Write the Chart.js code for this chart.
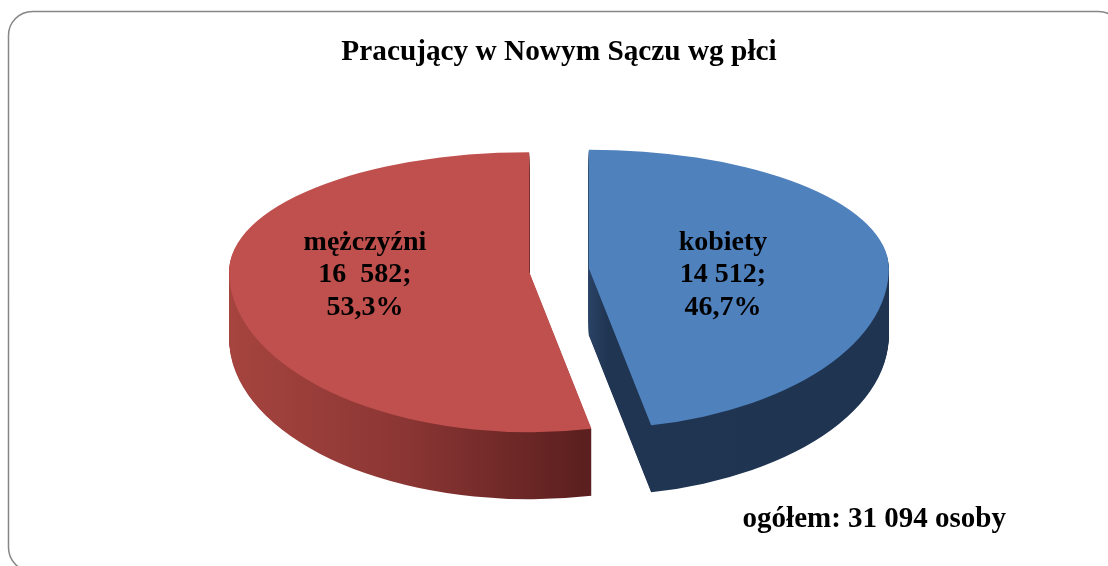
<!DOCTYPE html>
<html>
<head>
<meta charset="utf-8">
<title>Pracujący w Nowym Sączu wg płci</title>
<script src="https://cdn.jsdelivr.net/npm/chart.js@4.4.1/dist/chart.umd.min.js"></script>
<style>
  html, body { margin: 0; padding: 0; background: #fff; }
  #wrap { width: 1108px; height: 566px; }
</style>
</head>
<body>
<div id="wrap"><canvas id="myChart" width="1108" height="566"></canvas></div>
<script>
// dane z wykresu
var categories = ['kobiety', 'mężczyźni'];
var values = [14512, 16582];
var valueLabels = ['14 512', '16  582'];
var titleText = 'Pracujący w Nowym Sączu wg płci';

// wyglad
var sliceColors = ['#4F81BD', '#C0504D'];
var sideStops = [
  [[0, '#1F3350'], [0.5, '#2A4265'], [0.53, '#203552'], [1, '#1F3451']],
  [[0, '#A6443F'], [0.29, '#8B3634'], [0.6, '#5A1F1E'], [1, '#5A1F1E']]
];
var serif = '"Liberation Serif", "Times New Roman", serif';
var pieRadius = 300;
var explode = 30;
var kBack = 0.397;
var kFront = 0.535;
var sideDepth = 67;
var labelRadius = 0.5;
var labelShiftX = -15;
var labelShiftY = 5;
var labelLineHeight = 32.5;


function formatNumber(n) {
  return String(n).replace(/\B(?=(\d{3})+(?!\d))/g, ' ');
}


function sideGradient(ctx, arc, i) {
  var r = arc.outerRadius;
  var g = ctx.createLinearGradient(arc.x - r, 0, arc.x + r, 0);
  sideStops[i].forEach(function(st) {
    g.addColorStop(st[0], st[1]);
  });
  return g;
}


// rysuje wycinki w "pochylonej" perspektywie: tylna polowa splaszczona mocniej niz przednia
function drawSlices(chart, meta, dy, side) {
  var ctx = chart.ctx;
  meta.data.forEach(function(arc, i) {
    var mid = (arc.startAngle + arc.endAngle) / 2;
    var cy = Math.round(arc.y);
    var el = arc;
    if (side) {
      el = Object.create(arc);
      el.options = Object.assign({}, arc.options, {
        backgroundColor: sideGradient(ctx, arc, i),
        borderWidth: 0
      });
    }
    [kBack, kFront].forEach(function(k, h) {
      ctx.save();
      ctx.beginPath();
      if (h === 0) {
        ctx.rect(0, 0, chart.width, cy + dy);
      } else {
        ctx.rect(0, cy + dy, chart.width, chart.height);
      }
      ctx.clip();
      ctx.translate(0, cy + dy);
      ctx.scale(1, k);
      ctx.translate(Math.cos(mid) * explode, Math.sin(mid) * explode - cy);
      el.draw(ctx);
      ctx.restore();
    });
  });
}


function drawFrame(chart) {
  var ctx = chart.ctx;
  ctx.save();
  ctx.fillStyle = '#fff';
  ctx.fillRect(0, 0, chart.width, chart.height);
  ctx.strokeStyle = '#868686';
  ctx.lineWidth = 1.5;
  ctx.beginPath();
  ctx.roundRect(8.5, 11.5, 1114, 560, 24);
  ctx.stroke();
  ctx.restore();
}


function drawLabels(chart) {
  var ctx = chart.ctx;
  var meta = chart.getDatasetMeta(0);
  var total = meta.total;
  ctx.save();
  ctx.font = 'bold 28px ' + serif;
  ctx.fillStyle = '#000';
  ctx.textAlign = 'center';
  ctx.textBaseline = 'middle';
  meta.data.forEach(function(arc, i) {
    var mid = (arc.startAngle + arc.endAngle) / 2;
    var r = arc.outerRadius * labelRadius + explode;
    var x = arc.x + Math.cos(mid) * r + labelShiftX;
    var y = Math.round(arc.y) + labelShiftY;
    var pct = (values[i] / total * 100).toFixed(1).replace('.', ',') + '%';
    var lines = [categories[i], valueLabels[i] + ';', pct];
    lines.forEach(function(t, j) {
      ctx.fillText(t, x, y + (j - 1) * labelLineHeight);
    });
  });

  // suma
  ctx.font = 'bold 29px ' + serif;
  ctx.textAlign = 'right';
  ctx.textBaseline = 'alphabetic';
  ctx.fillText('ogółem: ' + formatNumber(total) + ' osoby', chart.width - 102, 527);
  ctx.restore();
}


var pie3d = {
  id: 'pie3d',
  beforeDraw: function(chart) {
    drawFrame(chart);
  },
  beforeDatasetsDraw: function(chart) {
    var meta = chart.getDatasetMeta(0);
    for (var s = sideDepth; s > 0; s--) {
      drawSlices(chart, meta, s, true);
    }
    drawSlices(chart, meta, 0, false);
    return false;
  },
  afterDraw: function(chart) {
    drawLabels(chart);
  }
};


function getChart() {
  var ctx = document.getElementById('myChart').getContext('2d');
  var chart = new Chart(ctx, {
    type: 'pie',
    data: {
      labels: categories,
      datasets: [{
        data: values,
        backgroundColor: sliceColors,
        borderWidth: 0,
        radius: pieRadius
      }]
    },
    options: {
      responsive: false,
      animation: false,
      events: [],
      layout: {
        padding: { left: 10, right: 0, top: 0, bottom: 96 }
      },
      plugins: {
        legend: { display: false },
        tooltip: { enabled: false },
        title: {
          display: true,
          text: titleText,
          color: '#000',
          font: { family: serif, size: 29.3, weight: 'bold' },
          padding: { top: 35, bottom: 0 }
        }
      }
    },
    plugins: [pie3d]
  });
  console.log(chart.getDatasetMeta(0).data);
}

getChart();
</script>
</body>
</html>
